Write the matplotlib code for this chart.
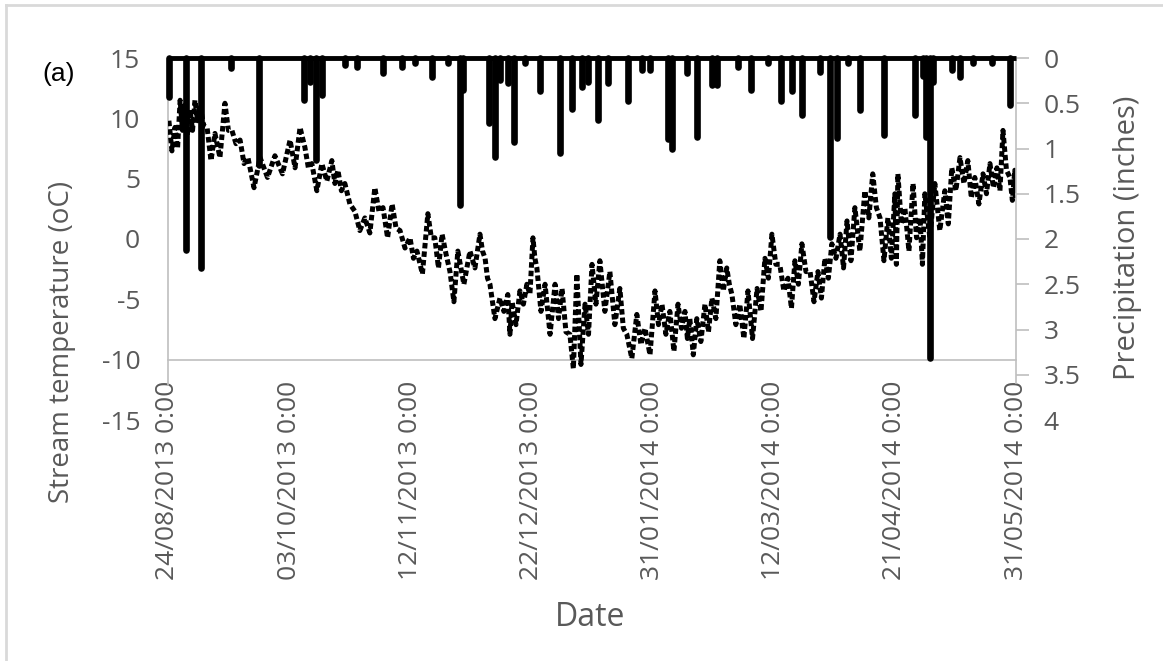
import matplotlib
matplotlib.use("Agg")
import matplotlib.pyplot as plt
from matplotlib.lines import Line2D

# ---------------- data ----------------
date_labels = ["24/08/2013 0:00", "03/10/2013 0:00", "12/11/2013 0:00", "22/12/2013 0:00",
               "31/01/2014 0:00", "12/03/2014 0:00", "21/04/2014 0:00", "31/05/2014 0:00"]
date_ticks = [0, 40, 80, 120, 160, 200, 240, 280]   # days since 24/08/2013

# stream temperature: day, upper and lower reading of the daily swing
temp_day = [0.3, 2.3, 4.0, 5.6, 7.3, 8.9, 10.6, 12.9, 15.5, 18.8,
            21.1, 23.8, 26.4, 30.4, 35.3, 40.3, 43.6, 45.2, 47.5, 50.8,
            54.1, 56.1, 58.4, 61.7, 65.0, 68.3, 71.0, 74.0, 76.6, 79.9,
            82.2, 85.8, 88.1, 90.5, 93.1, 95.7, 99.7, 103.0, 104.7, 106.3,
            109.6, 112.2, 113.6, 116.2, 118.5, 120.5, 121.8, 124.5, 127.8, 130.1,
            132.7, 135.0, 137.7, 140.0, 142.6, 145.9, 149.2, 151.5, 154.8, 157.5,
            160.8, 163.1, 165.7, 168.4, 170.7, 172.3, 174.6, 177.3, 179.6, 182.2,
            184.5, 186.2, 188.8, 191.5, 194.5, 197.1, 199.4, 202.0, 204.7, 207.0,
            209.3, 212.0, 214.6, 216.9, 219.2, 221.9, 224.2, 226.8, 230.1, 232.7,
            235.1, 237.7, 240.0, 241.0, 243.3, 246.0, 248.3, 249.9, 253.2, 256.5,
            258.8, 261.5, 264.1, 266.4, 269.1, 271.4, 273.7, 275.7, 278.0, 279.6]
temp_high = [9.8, 9.25, 11.5, 11.1, 10.7, 11.5, 11.1, 9.25, 8.75, 11.25,
             9.0, 8.2, 6.75, 6.75, 6.9, 8.2, 9.25, 7.6, 6.25, 6.25,
             6.5, 5.7, 4.6, 2.3, 1.75, 4.25, 2.6, 2.9, 0.7, 0.1,
             -1.0, 2.1, 0.1, 0.4, -2.7, -1.0, -1.0, 0.4, -1.6, -3.75,
             -4.9, -4.6, -5.2, -4.3, -3.75, 0.1, -2.4, -3.75, -3.75, -4.1,
             -7.9, -2.9, -5.4, -2.1, -1.8, -2.7, -4.1, -7.9, -6.25, -7.4,
             -4.3, -5.4, -6.0, -5.4, -6.0, -6.6, -6.6, -5.4, -4.9, -1.8,
             -2.4, -4.6, -5.4, -4.3, -4.1, -1.6, 0.4, -2.1, -3.25, -1.8,
             -0.4, -2.7, -2.7, -1.6, -0.4, 0.4, 1.5, 2.6, 4.0, 5.4,
             1.75, 1.75, 3.75, 5.4, 2.6, 4.6, 1.75, 3.75, 4.6, 4.0,
             5.9, 6.75, 6.5, 5.1, 5.4, 6.25, 5.9, 9.0, 5.1, 5.7]
temp_low = [7.3, 7.5, 9.0, 8.6, 9.0, 9.8, 9.4, 6.5, 6.75, 9.0,
            7.9, 6.25, 4.25, 5.1, 5.4, 5.9, 8.4, 5.9, 4.0, 4.8,
            4.6, 4.0, 2.9, 0.7, 0.5, 2.3, 0.1, 0.9, -0.75, -1.6,
            -2.9, 0.1, -2.4, -1.25, -5.2, -3.75, -2.4, -1.0, -3.25, -6.6,
            -6.0, -7.9, -7.1, -5.4, -4.6, -1.6, -6.0, -7.9, -6.6, -7.7,
            -10.75, -10.4, -7.9, -5.4, -6.0, -7.1, -7.4, -9.9, -8.75, -9.6,
            -7.1, -7.9, -9.3, -7.4, -8.25, -9.6, -8.5, -7.7, -6.6, -4.3,
            -3.75, -7.1, -8.25, -8.25, -6.0, -3.25, -2.1, -4.3, -5.75, -3.75,
            -2.7, -5.2, -4.9, -3.25, -1.6, -2.4, -1.8, -1.0, 1.75, 2.6,
            -1.8, -1.6, -2.1, 1.25, -1.0, 0.1, -2.1, 0.1, 0.7, 1.25,
            4.0, 4.6, 3.4, 2.9, 3.75, 4.25, 4.0, 5.7, 3.2, 3.4]

# precipitation events: day and depth (inches)
precip_day = [0.3, 5.9, 10.9, 20.8, 30.0, 44.9, 46.9, 48.9, 50.8, 58.4,
              62.4, 71.0, 77.3, 81.5, 87.2, 92.4, 96.4, 97.4, 106.0, 108.0,
              109.6, 112.2, 114.2, 117.9, 122.8, 129.4, 133.4, 136.7, 138.7, 142.0,
              145.3, 151.9, 156.5, 159.1, 165.1, 166.4, 171.3, 174.6, 179.6, 181.2,
              188.2, 192.5, 198.1, 202.4, 206.0, 209.3, 215.3, 218.6, 220.9, 224.5,
              228.5, 236.4, 246.6, 249.3, 250.2, 251.6, 252.6, 258.8, 261.5, 265.8,
              272.0, 278.0]
precip_in = [0.43, 2.12, 2.32, 0.11, 1.18, 0.46, 0.27, 1.13, 0.41, 0.08,
             0.10, 0.17, 0.10, 0.05, 0.21, 0.05, 1.62, 0.35, 0.72, 1.09,
             0.24, 0.28, 0.93, 0.06, 0.37, 1.05, 0.56, 0.32, 0.26, 0.69,
             0.28, 0.48, 0.13, 0.13, 0.90, 1.00, 0.17, 0.87, 0.30, 0.30,
             0.10, 0.35, 0.06, 0.48, 0.37, 0.63, 0.15, 1.98, 0.88, 0.05,
             0.57, 0.85, 0.63, 0.20, 0.87, 3.31, 0.26, 0.13, 0.21, 0.06,
             0.05, 0.52]

temp_ticks = [-15, -10, -5, 0, 5, 10, 15]
precip_ticks = [0, 0.5, 1, 1.5, 2, 2.5, 3, 3.5, 4]

# ---------------- figure ----------------
W, H = 1163, 661
fig = plt.figure(figsize=(W / 100, H / 100), dpi=100)
fig.patch.set_facecolor("white")

GRAY = "#595959"
AXGRAY = "#BFBFBF"
FONT = "Open Sans"

ax = fig.add_axes([168 / W, 1 - 420 / H, 848 / W, 362 / H])
ax.set_xlim(date_ticks[0], date_ticks[-1])
ax.set_ylim(temp_ticks[0], temp_ticks[-1])
ax.set_facecolor("none")

# temperature: zig-zag through the upper / lower readings
xs, ys = [], []
for i, d in enumerate(temp_day):
    nxt = temp_day[i + 1] if i + 1 < len(temp_day) else d + 0.8
    xs += [d, (d + nxt) / 2]
    ys += [temp_high[i], temp_low[i]]
ax.plot(xs, ys, color="black", lw=3.6, dashes=(1.1, 0.6),
        dash_capstyle="butt", dash_joinstyle="round", zorder=3)

# spines
for s in ["top", "right"]:
    ax.spines[s].set_visible(False)
ax.spines["left"].set_color(AXGRAY)
ax.spines["left"].set_linewidth(1.2)
ax.spines["left"].set_bounds(-12.1, 15)
ax.spines["bottom"].set_position(("data", -10))
ax.spines["bottom"].set_color(AXGRAY)
ax.spines["bottom"].set_linewidth(1.2)

ax.set_yticks(temp_ticks)
ax.set_yticklabels([str(t) for t in temp_ticks])
ax.tick_params(axis="y", length=0, pad=20, labelsize=19, labelcolor=GRAY)
ax.set_xticks(date_ticks)
ax.set_xticklabels(date_labels, rotation=90)
ax.tick_params(axis="x", length=0, pad=15, labelsize=19, labelcolor=GRAY)
for lab in ax.get_xticklabels() + ax.get_yticklabels():
    lab.set_fontfamily(FONT)

# precipitation on inverted secondary axis
ax2 = ax.twinx()
ax2.set_ylim(precip_ticks[-1], precip_ticks[0])
vl = ax2.vlines(precip_day, 0, precip_in, color="black", lw=4.8, zorder=4)
vl.set_capstyle("round")
vl.set_clip_on(False)
ax2.hlines(0, date_ticks[0], date_ticks[-1], color="black", lw=3.5, zorder=4,
           clip_on=False)
for s in ["top", "left", "bottom"]:
    ax2.spines[s].set_visible(False)
ax2.spines["right"].set_color(AXGRAY)
ax2.spines["right"].set_linewidth(1.2)
ax2.spines["right"].set_bounds(0, 3.59)
ax2.set_yticks(precip_ticks)
ax2.set_yticklabels([("%g" % p) for p in precip_ticks])
ax2.tick_params(axis="y", length=9, width=1.2, color=AXGRAY, pad=11,
                labelsize=19, labelcolor=GRAY)
ax2.yaxis.get_major_ticks()[-1].tick2line.set_visible(False)
for lab in ax2.get_yticklabels():
    lab.set_fontfamily(FONT)

# titles
fig.text(62 / W, 1 - 342 / H, "Stream temperature (oC)", rotation=90, ha="center",
         va="center", fontsize=20, color=GRAY, family=FONT)
fig.text(1128 / W, 1 - 238 / H, "Precipitation (inches)", rotation=90, ha="center",
         va="center", fontsize=21, color=GRAY, family=FONT)
fig.text(590 / W, 1 - 617 / H, "Date", ha="center", va="center", fontsize=23,
         color=GRAY, family=FONT)
fig.text(42 / W, 1 - 74 / H, "(a)", ha="left", va="center", fontsize=19,
         color="black", family="Liberation Sans")

# outer frame (top and left edges visible)
fig.add_artist(Line2D([6 / W, 6 / W], [0, 1 - 5 / H], transform=fig.transFigure,
                      color="#D9D9D9", lw=2))
fig.add_artist(Line2D([6 / W, 1], [1 - 5 / H, 1 - 5 / H], transform=fig.transFigure,
                      color="#D9D9D9", lw=2))

fig.savefig("out.png", dpi=100)
